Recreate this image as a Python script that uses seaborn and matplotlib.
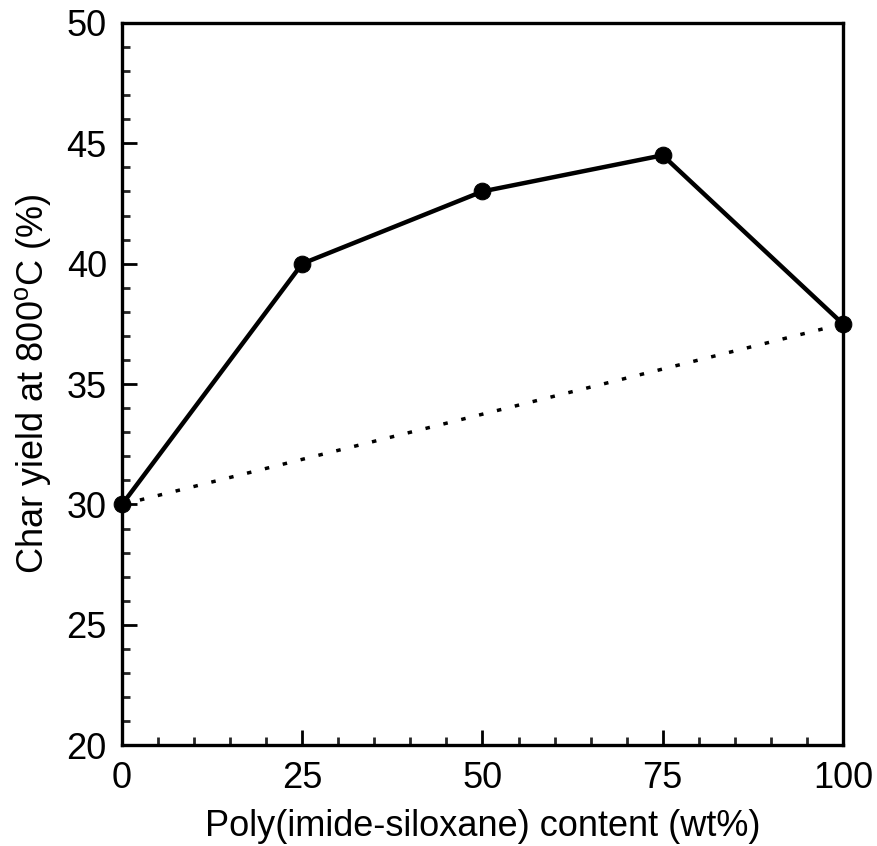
import matplotlib
matplotlib.use("Agg")
import matplotlib.pyplot as plt
from matplotlib.ticker import MultipleLocator
import seaborn as sns
import pandas as pd

content = [0, 25, 50, 75, 100]
char_yield = [30.0, 40.0, 43.0, 44.5, 37.5]
x_ticks = [0, 25, 50, 75, 100]
y_ticks = [20, 25, 30, 35, 40, 45, 50]

sns.set_theme(style="ticks")
plt.rcParams["font.family"] = ["Liberation Sans", "DejaVu Sans"]

df = pd.DataFrame({"content": content, "char_yield": char_yield})
additive = pd.DataFrame({"content": [content[0], content[-1]],
                         "char_yield": [char_yield[0], char_yield[-1]]})

fig = plt.figure(figsize=(8.78, 8.46), dpi=100)
ax = fig.add_axes([0.139, 0.119, 0.821, 0.854])

# additivity line between the two neat components
sns.lineplot(data=additive, x="content", y="char_yield", ax=ax,
             color="black", linestyle=(0, (1.3, 4.0)), linewidth=2.5)
sns.lineplot(data=df, x="content", y="char_yield", ax=ax,
             color="black", linewidth=3.2, marker="o", markersize=12,
             markeredgecolor="black", markerfacecolor="black")

ax.set_xlim(0, 100)
ax.set_ylim(20, 50)
ax.set_xticks(x_ticks)
ax.set_yticks(y_ticks)
ax.xaxis.set_minor_locator(MultipleLocator(5))
ax.yaxis.set_minor_locator(MultipleLocator(1))
ax.tick_params(which="major", direction="in", length=11, width=2,
               labelsize=26, pad=11, top=False, right=False, colors="black")
ax.tick_params(which="minor", direction="in", length=6, width=2,
               top=False, right=False)
for s in ax.spines.values():
    s.set_linewidth(2.4)
    s.set_color("black")

ax.set_xlabel("Poly(imide-siloxane) content (wt%)", fontsize=26, labelpad=10,
              color="black")
ax.set_ylabel("Char yield at 800$^{\\mathregular{o}}$C (%)", fontsize=26,
              labelpad=10, color="black")
for c in ax.lines:
    c.set_clip_on(False)

fig.savefig("out.png", dpi=100)
